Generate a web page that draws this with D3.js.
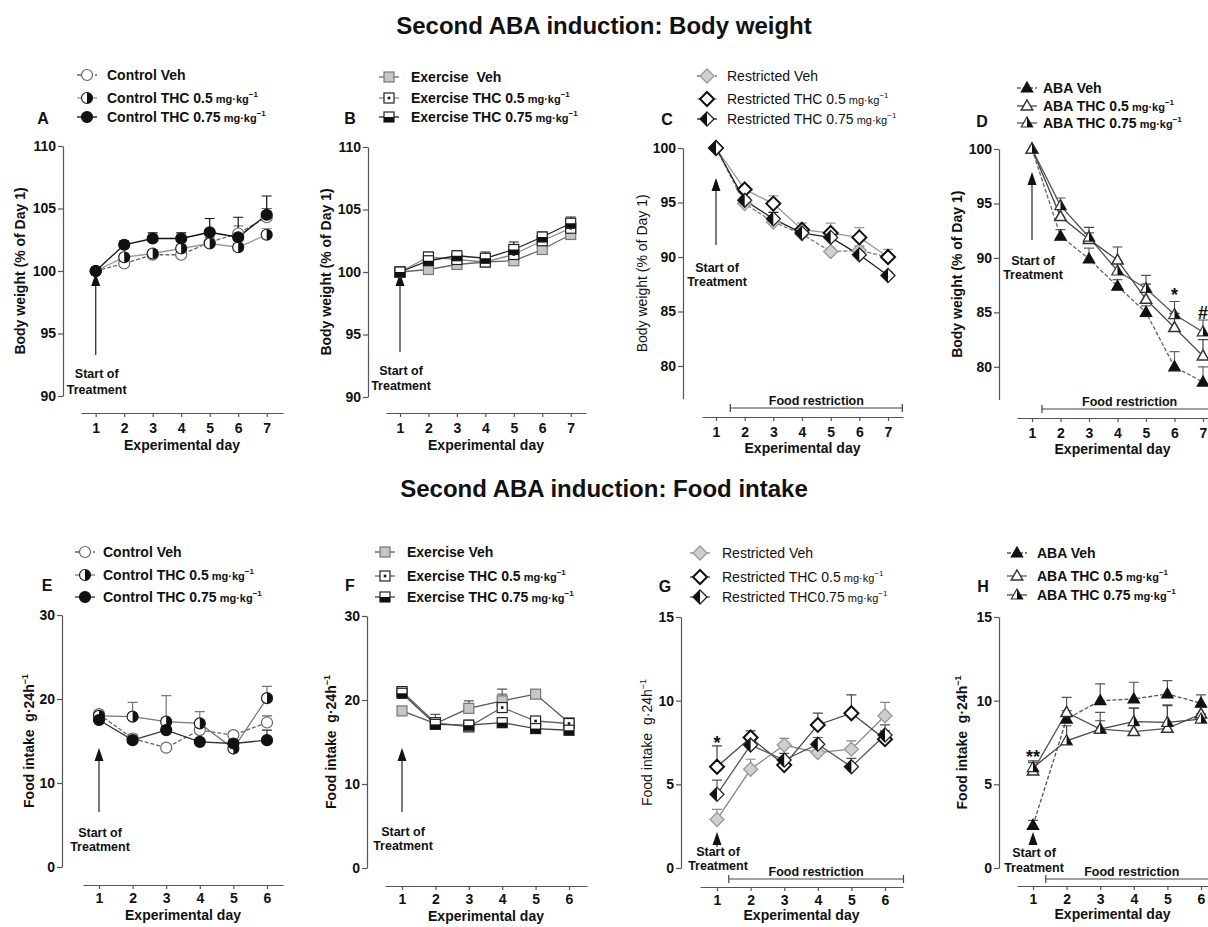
<!DOCTYPE html>
<html lang="en">
<head>
<meta charset="utf-8">
<title>Second ABA induction</title>
<script src="https://d3js.org/d3.v7.min.js"></script>
<style>
  body { margin: 0; background: #fff; }
  svg text { font-family: "Liberation Sans", Arial, sans-serif; fill: #111; white-space: pre; }
</style>
</head>
<body>
<script>
// ---- data (mean, upper SEM) ----
const daysBW = [1, 2, 3, 4, 5, 6, 7];
const daysFI = [1, 2, 3, 4, 5, 6];

// Body weight (% of day 1)
const ctrlBWVeh    = [100, 100.6, 101.3, 101.3, 102.3, 103.0, 104.3];
const ctrlBWVehSem = [0, 0.3, 0.3, 0.4, 0.4, 0.6, 0.7];
const ctrlBW05     = [100, 101.1, 101.4, 101.8, 102.2, 101.9, 102.9];
const ctrlBW05Sem  = [0, 0.3, 0.3, 0.3, 0.3, 0.3, 0.5];
const ctrlBW075    = [100, 102.1, 102.6, 102.6, 103.1, 102.7, 104.5];
const ctrlBW075Sem = [0, 0.3, 0.45, 0.45, 1.1, 1.6, 1.5];

const exBWVeh    = [100, 100.2, 100.6, 100.8, 100.9, 101.8, 103.0];
const exBWVehSem = [0, 0.3, 0.4, 0.4, 0.5, 0.5, 0.6];
const exBW05     = [100, 101.2, 101.0, 100.8, 101.4, 102.5, 103.5];
const exBW05Sem  = [0, 0.4, 0.5, 0.6, 0.6, 0.6, 0.6];
const exBW075    = [100, 100.9, 101.3, 101.1, 101.8, 102.8, 103.9];
const exBW075Sem = [0, 0.3, 0.4, 0.5, 0.6, 0.4, 0.5];

const resBWVeh    = [100, 94.9, 93.2, 92.1, 90.5, 90.6, 90.0];
const resBWVehSem = [0, 0.3, 0.3, 0.4, 0.3, 0.4, 0.3];
const resBW05     = [100, 96.2, 94.9, 92.5, 92.2, 91.8, 90.0];
const resBW05Sem  = [0, 0.3, 0.7, 0.6, 0.9, 0.9, 0.7];
const resBW075    = [100, 95.2, 93.5, 92.2, 91.8, 90.2, 88.3];
const resBW075Sem = [0, 0.3, 0.6, 0.4, 0.4, 0.4, 0.3];

const abaBWVeh    = [100, 92.0, 89.9, 87.4, 85.0, 80.0, 78.6];
const abaBWVehSem = [0, 0.6, 1.0, 0.6, 0.6, 1.4, 1.4];
const abaBW05     = [100, 93.8, 91.7, 89.8, 86.2, 83.6, 81.0];
const abaBW05Sem  = [0, 0.8, 1.1, 1.2, 1.4, 1.3, 1.5];
const abaBW075    = [100, 94.8, 91.9, 88.8, 87.2, 84.8, 83.2];
const abaBW075Sem = [0, 0.7, 0.4, 0.8, 1.2, 1.2, 1.1];

// Food intake (g per 24 h)
const ctrlFIVeh    = [18.2, 15.3, 14.2, 16.3, 15.7, 17.2];
const ctrlFIVehSem = [0.4, 0.5, 0.4, 0.6, 0.4, 0.8];
const ctrlFI05     = [18.0, 17.9, 17.3, 17.1, 14.1, 20.1];
const ctrlFI05Sem  = [0.6, 1.7, 3.1, 1.4, 0.4, 1.4];
const ctrlFI075    = [17.5, 15.1, 16.3, 14.9, 14.7, 15.1];
const ctrlFI075Sem = [0.5, 0.5, 0.4, 0.4, 0.4, 1.2];

const exFIVeh    = [18.7, 17.2, 19.0, 19.9, 20.7, 17.3];
const exFIVehSem = [0.3, 1.1, 0.9, 1.4, 0.4, 0.4];
const exFI05     = [21.0, 17.3, 16.8, 19.1, 17.5, 17.2];
const exFI05Sem  = [0.4, 0.5, 0.8, 1.6, 0.5, 0.5];
const exFI075    = [20.8, 17.1, 17.0, 17.3, 16.6, 16.4];
const exFI075Sem = [0.3, 0.4, 0.4, 0.3, 0.3, 0.3];

const resFIVeh    = [2.9, 5.9, 7.35, 6.9, 7.1, 9.1];
const resFIVehSem = [0.6, 0.6, 0.4, 0.4, 0.5, 0.8];
const resFI05     = [6.05, 7.8, 6.15, 8.55, 9.25, 7.7];
const resFI05Sem  = [1.25, 0.4, 0.4, 0.7, 1.1, 0.5];
const resFI075    = [4.4, 7.35, 6.45, 7.4, 6.05, 7.95];
const resFI075Sem = [0.85, 0.5, 0.4, 0.4, 0.5, 0.6];

const abaFIVeh    = [2.55, 8.9, 10.0, 10.1, 10.4, 9.85];
const abaFIVehSem = [0.3, 0.5, 1.0, 1.0, 0.8, 0.5];
const abaFI05     = [5.8, 9.3, 8.3, 8.15, 8.35, 9.2];
const abaFI05Sem  = [0.5, 0.9, 1.0, 1.4, 1.4, 0.5];
const abaFI075    = [6.0, 7.6, 8.3, 8.75, 8.7, 8.9];
const abaFI075Sem = [0.4, 0.9, 0.5, 0.8, 1.0, 0.3];

// legend labels
const ctrlLabels = ["Control Veh", "Control THC 0.5", "Control THC 0.75"];
const exLabels   = ["Exercise  Veh", "Exercise THC 0.5", "Exercise THC 0.75"];
const exLabelsF  = ["Exercise Veh", "Exercise THC 0.5", "Exercise THC 0.75"];
const resLabels  = ["Restricted Veh", "Restricted THC 0.5", "Restricted THC 0.75"];
const resLabelsG = ["Restricted Veh", "Restricted THC 0.5", "Restricted THC0.75"];
const abaLabels  = ["ABA Veh", "ABA THC 0.5", "ABA THC 0.75"];
const hasUnit = [false, true, true];

const ticksBW = [90, 95, 100, 105, 110];
const ticksBWlow = [80, 85, 90, 95, 100];
const ticksFI = [0, 10, 20, 30];
const ticksFIlow = [0, 5, 10, 15];

// ---- styles ----
const ctrlMarks = [
  {shape: "circle", kind: "open", stroke: "#666"},
  {shape: "circle", kind: "half", stroke: "#222"},
  {shape: "circle", kind: "filled", stroke: "#111"}];
const exMarks = [
  {shape: "square", kind: "gray", stroke: "#777"},
  {shape: "square", kind: "dot", stroke: "#222"},
  {shape: "square", kind: "halfbottom", stroke: "#222"}];
const resMarks = [
  {shape: "diamond", kind: "gray", stroke: "#999"},
  {shape: "diamond", kind: "open", stroke: "#111"},
  {shape: "diamond", kind: "halfleft", stroke: "#222"}];
const abaMarks = [
  {shape: "triangle", kind: "filled", stroke: "#111"},
  {shape: "triangle", kind: "open", stroke: "#333"},
  {shape: "triangle", kind: "half", stroke: "#333"}];

function makeSeries(means, sems, labels, marks, colors, dashes) {
  return means.map((m, i) => ({mean: m, sem: sems[i], label: labels[i], unit: hasUnit[i],
    marker: marks[i], color: colors[i], dash: dashes[i]}));
}

const panels = [
  {letter: "A", days: daysBW, x1: 95.7, xN: 266.7, axL: 81, axR: 283, axY: 413, axX: 63,
   yDom: [90, 110], yRng: [396, 146], yTicks: ticksBW, yLab: "bw", yLabX: 20, bold: true,
   tickPad: 6, xLabDy: 37,
   series: makeSeries([ctrlBWVeh, ctrlBW05, ctrlBW075], [ctrlBWVehSem, ctrlBW05Sem, ctrlBW075Sem],
     ctrlLabels, ctrlMarks, ["#666", "#999", "#111"], ["4,2", null, null]),
   legend: {mx: 87, tx: 107, rows: [75, 98, 117], lx: 43, ly: 118},
   arrow: {tip: 273, bottom: 355, t1: 373, t2: 389}},
  {letter: "B", days: daysBW, x1: 400, xN: 570.7, axL: 386, axR: 586, axY: 413, axX: 368,
   yDom: [90, 110], yRng: [397, 147], yTicks: ticksBW, yLab: "bw", yLabX: 326, bold: true,
   tickPad: 6, xLabDy: 37,
   series: makeSeries([exBWVeh, exBW05, exBW075], [exBWVehSem, exBW05Sem, exBW075Sem],
     exLabels, exMarks, ["#666", "#888", "#222"], [null, null, null]),
   legend: {mx: 389, tx: 411, rows: [77, 98, 117], lx: 350, ly: 118},
   arrow: {tip: 273, bottom: 352, t1: 370, t2: 385}},
  {letter: "C", days: daysBW, x1: 716, xN: 888, axL: 702, axR: 903, axY: 417, axX: 683,
   yDom: [77, 100], yRng: [398.7, 148], yTicks: ticksBWlow, yLab: "bw", yLabX: 642, bold: false,
   tickPad: 6, xLabDy: 36,
   series: makeSeries([resBWVeh, resBW05, resBW075], [resBWVehSem, resBW05Sem, resBW075Sem],
     resLabels, resMarks, ["#777", "#999", "#222"], ["4,2", null, null]),
   legend: {mx: 707, tx: 727, rows: [76, 99, 119], lx: 667, ly: 119},
   arrow: {tip: 178, bottom: 245, t1: 267, t2: 281},
   bracket: {from: 1.5, to: 7.5, y: 408, ly: 400}},
  {letter: "D", days: daysBW, x1: 1032, xN: 1203, axL: 1017, axR: 1230, axY: 418, axX: 999,
   yDom: [77, 100], yRng: [399.5, 149], yTicks: ticksBWlow, yLab: "bw", yLabX: 957, bold: true,
   tickPad: 6, xLabDy: 36,
   series: makeSeries([abaBWVeh, abaBW05, abaBW075], [abaBWVehSem, abaBW05Sem, abaBW075Sem],
     abaLabels, abaMarks, ["#666", "#444", "#555"], ["4,2", null, null]),
   legend: {mx: 1027, tx: 1043, rows: [88, 106, 123], lx: 982, ly: 121},
   arrow: {tip: 172, bottom: 240, t1: 260, t2: 274},
   bracket: {from: 1.35, to: 7.5, y: 409, ly: 401},
   stars: [{day: 6, value: 87.0, text: "*"}, {day: 7, value: 85.0, text: "#"}]},

  {letter: "E", days: daysFI, x1: 99, xN: 267, axL: 83, axR: 283, axY: 885, axX: 62,
   yDom: [0, 30], yRng: [867, 615], yTicks: ticksFI, yLab: "fi", yLabX: 29, bold: true,
   tickPad: 4, xLabDy: 35,
   series: makeSeries([ctrlFIVeh, ctrlFI05, ctrlFI075], [ctrlFIVehSem, ctrlFI05Sem, ctrlFI075Sem],
     ctrlLabels, ctrlMarks, ["#666", "#777", "#333"], ["4,2", null, null]),
   legend: {mx: 85, tx: 103, rows: [552, 575, 597], lx: 47, ly: 585},
   arrow: {tip: 748, bottom: 812, t1: 832, t2: 846}},
  {letter: "F", days: daysFI, x1: 402, xN: 569, axL: 385, axR: 587, axY: 886, axX: 367,
   yDom: [0, 30], yRng: [868, 616], yTicks: ticksFI, yLab: "fi", yLabX: 331, bold: true,
   tickPad: 4, xLabDy: 35,
   series: makeSeries([exFIVeh, exFI05, exFI075], [exFIVehSem, exFI05Sem, exFI075Sem],
     exLabelsF, exMarks, ["#555", "#666", "#444"], [null, null, null]),
   legend: {mx: 385, tx: 407, rows: [552, 576, 597], lx: 350, ly: 585},
   arrow: {tip: 748, bottom: 812, t1: 831, t2: 845}},
  {letter: "G", days: daysFI, x1: 717, xN: 885, axL: 700, axR: 903, axY: 887, axX: 681,
   yDom: [0, 15], yRng: [868, 617], yTicks: ticksFIlow, yLab: "fi", yLabX: 647, bold: false,
   tickPad: 4, xLabDy: 33,
   series: makeSeries([resFIVeh, resFI05, resFI075], [resFIVehSem, resFI05Sem, resFI075Sem],
     resLabelsG, resMarks, ["#888", "#444", "#555"], [null, null, null]),
   legend: {mx: 700, tx: 722, rows: [553, 577, 597], lx: 665, ly: 586},
   arrow: {tip: 832, bottom: 847, t1: 851, t2: 865},
   bracket: {from: 1.35, to: 6.55, y: 879, ly: 871},
   stars: [{day: 1, value: 7.7, text: "*"}]},
  {letter: "H", days: daysFI, x1: 1033, xN: 1201, axL: 1017, axR: 1230, axY: 886, axX: 999,
   yDom: [0, 15], yRng: [868, 617], yTicks: ticksFIlow, yLab: "fi", yLabX: 962, bold: true,
   tickPad: 4, xLabDy: 33,
   series: makeSeries([abaFIVeh, abaFI05, abaFI075], [abaFIVehSem, abaFI05Sem, abaFI075Sem],
     abaLabels, abaMarks, ["#555", "#555", "#444"], ["4,2", null, null]),
   legend: {mx: 1017, tx: 1037, rows: [553, 576, 595], lx: 983, ly: 586},
   arrow: {tip: 832, bottom: 843, t1: 852, t2: 867},
   bracket: {from: 1.38, to: 6.5, y: 879, ly: 871},
   stars: [{day: 1, value: 6.9, text: "**"}]}
];

// ---- drawing ----
const svg = d3.select("body").append("svg")
  .attr("width", 1208).attr("height", 927);

svg.append("rect").attr("width", 1208).attr("height", 927).attr("fill", "#fff");

svg.append("text").attr("x", 604).attr("y", 34).attr("text-anchor", "middle")
  .attr("font-size", 24).attr("font-weight", "bold")
  .text("Second ABA induction: Body weight");
svg.append("text").attr("x", 604).attr("y", 497).attr("text-anchor", "middle")
  .attr("font-size", 24).attr("font-weight", "bold")
  .text("Second ABA induction: Food intake");

function drawMarker(g, m, cx, cy) {
  const mg = g.append("g").attr("transform", `translate(${cx},${cy})`);
  if (m.shape === "circle") {
    const r = 5.5;
    mg.append("circle").attr("r", r)
      .attr("fill", m.kind === "filled" ? "#111" : "#fff")
      .attr("stroke", m.stroke).attr("stroke-width", 1.2);
    if (m.kind === "half")
      mg.append("path").attr("d", `M0,${-r} A${r},${r} 0 0 1 0,${r} Z`).attr("fill", "#111");
  } else if (m.shape === "square") {
    const s = 10;
    mg.append("rect").attr("x", -s / 2).attr("y", -s / 2).attr("width", s).attr("height", s)
      .attr("fill", m.kind === "gray" ? "#c6c6c6" : "#fff")
      .attr("stroke", m.stroke).attr("stroke-width", 1.2);
    if (m.kind === "dot")
      mg.append("rect").attr("x", -1.3).attr("y", -1.3).attr("width", 2.6).attr("height", 2.6).attr("fill", "#111");
    if (m.kind === "halfbottom")
      mg.append("rect").attr("x", -s / 2).attr("y", 0).attr("width", s).attr("height", s / 2).attr("fill", "#111");
  } else if (m.shape === "diamond") {
    const r = 7;
    mg.append("polygon").attr("points", `0,${-r} ${r},0 0,${r} ${-r},0`)
      .attr("fill", m.kind === "gray" ? "#cfcfcf" : "#fff")
      .attr("stroke", m.stroke).attr("stroke-width", m.kind === "open" ? 2 : 1.3);
    if (m.kind === "halfleft")
      mg.append("polygon").attr("points", `0,${-r} ${-r},0 0,${r}`).attr("fill", "#111");
  } else {
    const pts = "0,-6 5.7,4 -5.7,4";
    mg.append("polygon").attr("points", pts)
      .attr("fill", m.kind === "filled" ? "#111" : "#fff")
      .attr("stroke", m.stroke).attr("stroke-width", m.kind === "open" ? 1.5 : 1.2);
    if (m.kind === "half")
      mg.append("polygon").attr("points", "0,-6 5.7,4 0,4").attr("fill", "#111");
  }
}

function unitText(sel, main, unit, size) {
  sel.text(main);
  if (unit) {
    sel.append("tspan").attr("font-size", size - 3).text(" mg·kg");
    sel.append("tspan").attr("font-size", size - 6).attr("dy", -6).text("−1");
  }
}

panels.forEach(p => {
  const g = svg.append("g").attr("class", "panel-" + p.letter);
  const n = p.days.length;
  const weight = p.bold ? "bold" : "normal";

  // x scale is fixed by the tick positions, then widened to the axis line
  const xt = d3.scaleLinear().domain([1, p.days[n - 1]]).range([p.x1, p.xN]);
  const x = d3.scaleLinear().domain([xt.invert(p.axL), xt.invert(p.axR)]).range([p.axL, p.axR]);
  const y = d3.scaleLinear().domain(p.yDom).range(p.yRng);

  // y axis
  const ya = g.append("g").attr("transform", `translate(${p.axX},0)`)
    .call(d3.axisLeft(y).tickValues(p.yTicks).tickFormat(d3.format("d"))
      .tickSize(5).tickSizeOuter(0).tickPadding(2));
  // x axis
  const xa = g.append("g").attr("transform", `translate(0,${p.axY})`)
    .call(d3.axisBottom(x).tickValues(p.days).tickFormat(d3.format("d"))
      .tickSize(4).tickSizeOuter(0).tickPadding(p.tickPad));
  [ya, xa].forEach(a => {
    a.select(".domain").attr("stroke", "#555").attr("stroke-width", 1.2);
    a.selectAll(".tick line").attr("stroke", "#555").attr("stroke-width", 1.2);
    a.selectAll(".tick text").attr("font-size", 14).attr("font-weight", "bold")
      .attr("font-family", null).attr("fill", "#111");
    a.attr("font-family", null);
  });

  g.append("text").attr("x", (p.axL + Math.min(p.axR, 1208)) / 2)
    .attr("y", p.axY + p.xLabDy).attr("text-anchor", "middle")
    .attr("font-size", 14).attr("font-weight", "bold").text("Experimental day");

  // y label
  const ly = (p.yRng[0] + p.yRng[1]) / 2;
  const yl = g.append("text").attr("transform", `translate(${p.yLabX},${ly}) rotate(-90)`)
    .attr("text-anchor", "middle").attr("dy", "0.35em")
    .attr("font-size", 14).attr("font-weight", weight);
  if (p.yLab === "bw") {
    yl.text("Body weight (% of Day 1)");
  } else {
    yl.text("Food intake  g·24h");
    yl.append("tspan").attr("font-size", 9).attr("dy", -6).text("−1");
  }

  // panel letter
  g.append("text").attr("x", p.legend.lx).attr("y", p.legend.ly + 6).attr("text-anchor", "middle")
    .attr("font-size", 16).attr("font-weight", "bold").text(p.letter);

  // legend
  p.series.forEach((s, i) => {
    const ry = p.legend.rows[i];
    g.append("line").attr("x1", p.legend.mx - 10).attr("x2", p.legend.mx + 10)
      .attr("y1", ry).attr("y2", ry).attr("stroke", s.color).attr("stroke-width", 1.3)
      .attr("stroke-dasharray", s.dash);
    drawMarker(g, s.marker, p.legend.mx, ry);
    const t = g.append("text").attr("x", p.legend.tx).attr("y", ry + 5)
      .attr("font-size", 14).attr("font-weight", weight);
    unitText(t, s.label, s.unit, 14);
  });

  // start of treatment arrow
  const ax = x(1);
  const a = p.arrow;
  g.append("line").attr("x1", ax).attr("x2", ax).attr("y1", a.bottom).attr("y2", a.tip + 10)
    .attr("stroke", "#333").attr("stroke-width", 1.3);
  g.append("polygon").attr("points", `${ax},${a.tip} ${ax + 4.5},${a.tip + 13} ${ax - 4.5},${a.tip + 13}`)
    .attr("fill", "#111");
  g.append("text").attr("x", ax + 1).attr("y", a.t1 + 4.5).attr("text-anchor", "middle")
    .attr("font-size", 12.5).attr("font-weight", "bold").text("Start of");
  g.append("text").attr("x", ax + 1).attr("y", a.t2 + 4.5).attr("text-anchor", "middle")
    .attr("font-size", 12.5).attr("font-weight", "bold").text("Treatment");

  // food restriction bracket
  if (p.bracket) {
    const b = p.bracket;
    const bx1 = x(b.from), bx2 = x(b.to);
    g.append("path").attr("d", `M${bx1},${b.y - 4}V${b.y + 4}M${bx1},${b.y}H${bx2}M${bx2},${b.y - 4}V${b.y + 4}`)
      .attr("stroke", "#444").attr("stroke-width", 1.2).attr("fill", "none");
    g.append("text").attr("x", (bx1 + bx2) / 2).attr("y", b.ly + 4.5).attr("text-anchor", "middle")
      .attr("font-size", 12.5).attr("font-weight", "bold").text("Food restriction");
  }

  // series: line, error bars, markers
  const line = d3.line().x(d => x(d.day)).y(d => y(d.v));
  p.series.forEach(s => {
    const pts = p.days.map((d, i) => ({day: d, v: s.mean[i], e: s.sem[i]}));
    g.append("path").datum(pts).attr("d", line).attr("fill", "none")
      .attr("stroke", s.color).attr("stroke-width", 1.3).attr("stroke-dasharray", s.dash);
    g.selectAll(null).data(pts.filter(d => d.e > 0)).enter().append("path")
      .attr("d", d => `M${x(d.day)},${y(d.v)}V${y(d.v + d.e)}M${x(d.day) - 5},${y(d.v + d.e)}H${x(d.day) + 5}`)
      .attr("stroke", s.color).attr("stroke-width", 1.2).attr("fill", "none");
  });
  p.series.forEach(s => {
    p.days.forEach((d, i) => drawMarker(g, s.marker, x(d), y(s.mean[i])));
  });

  // significance marks
  (p.stars || []).forEach(st => {
    g.append("text").attr("x", x(st.day)).attr("y", y(st.value) + (st.text === "#" ? 7 : 10))
      .attr("text-anchor", "middle").attr("font-size", 18).attr("font-weight", "bold").text(st.text);
  });
});
</script>
</body>
</html>
